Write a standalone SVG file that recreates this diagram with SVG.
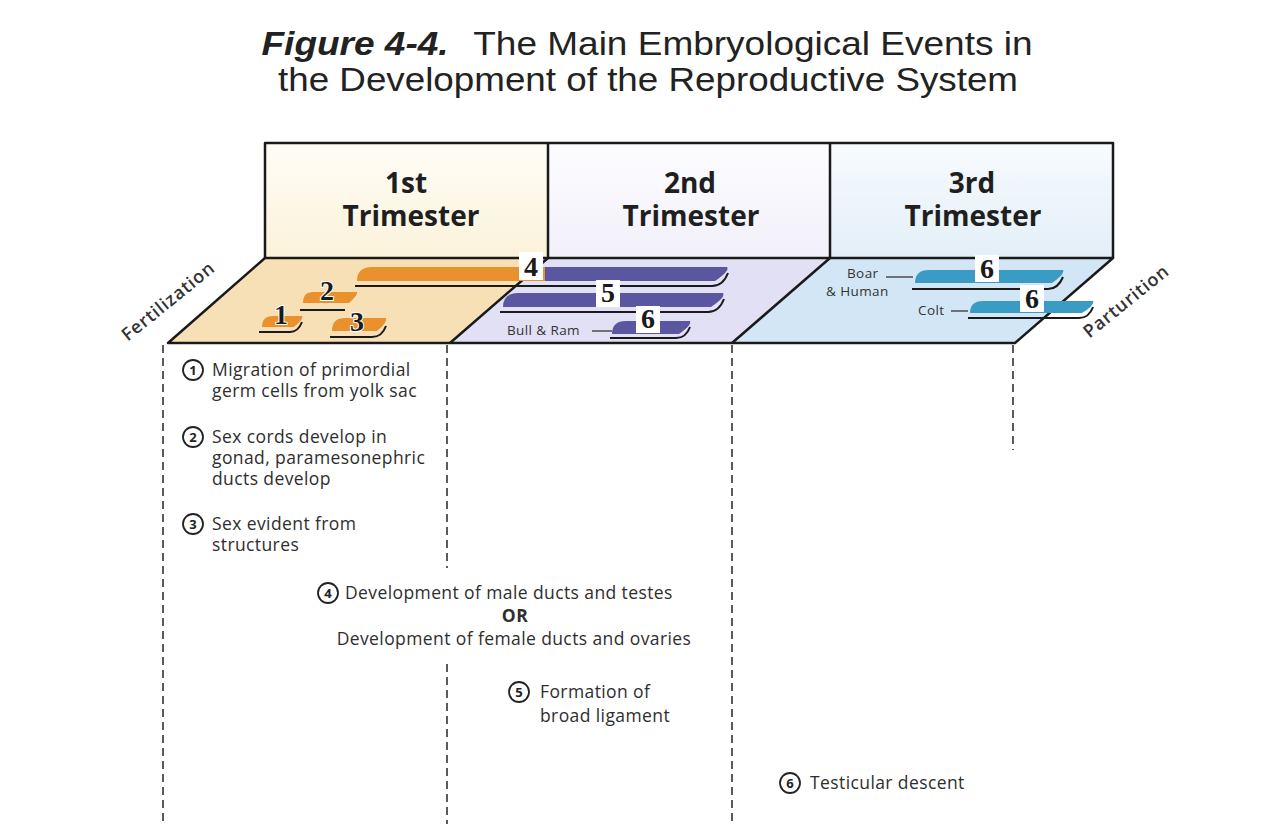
<svg xmlns="http://www.w3.org/2000/svg" width="1288" height="824" viewBox="0 0 1288 824">
<defs>
<linearGradient id="g1" x1="0" y1="0" x2="0" y2="1"><stop offset="0" stop-color="#fffdf6"/><stop offset="1" stop-color="#fbf2da"/></linearGradient>
<linearGradient id="g2" x1="0" y1="0" x2="0" y2="1"><stop offset="0" stop-color="#fdfdff"/><stop offset="1" stop-color="#f1f0fa"/></linearGradient>
<linearGradient id="g3" x1="0" y1="0" x2="0" y2="1"><stop offset="0" stop-color="#f7fbfe"/><stop offset="1" stop-color="#e3eff8"/></linearGradient>
</defs>
<style>
.edge{stroke:#1a1a1a;stroke-width:2.5;fill:none;stroke-linejoin:round}
.dash{stroke:#333;stroke-width:1.6;stroke-dasharray:8 5;fill:none}
.lead{stroke:#333;stroke-width:1.3;fill:none}
.ul{stroke:#1a1a1a;stroke-width:2;fill:none}
.or{fill:#e9912d}
.pu{fill:#5a569f}
.bl{fill:#3a9cc5}
.num{font-family:"Liberation Serif",serif;font-weight:bold;font-size:28px;fill:#1a1a1a;text-anchor:middle;paint-order:stroke;stroke:#fff;stroke-width:2}
.nbox{fill:#fff}
.tri{font-family:"Open Sans",Lato,sans-serif;font-weight:bold;font-size:28px;fill:#1f1f1f;text-anchor:middle}
.txt{font-family:"Open Sans",Lato,sans-serif;font-size:17.5px;letter-spacing:0.4px;fill:#2e2e2e}
.sm{font-family:"Open Sans",Lato,sans-serif;font-size:13.5px;letter-spacing:0.4px;fill:#333}
.cn{fill:#fff;stroke:#222;stroke-width:1.8}
.cd{font-family:"Open Sans",Lato,sans-serif;font-size:13px;fill:#222;text-anchor:middle;font-weight:bold}
.side{font-family:"Open Sans",Lato,sans-serif;font-size:18px;letter-spacing:0.8px;fill:#333;font-weight:600;text-anchor:middle}
.title{font-family:"Liberation Sans",Arial,sans-serif;font-size:33px;fill:#222;text-anchor:middle}
</style>
<rect width="1288" height="824" fill="#fff"/>

<g id="title">
<text class="title" x="647" y="55" textLength="771" lengthAdjust="spacingAndGlyphs"><tspan font-weight="bold" font-style="italic">Figure 4-4.</tspan><tspan dx="22">The Main Embryological Events in</tspan></text>
<text class="title" x="648" y="91" textLength="740" lengthAdjust="spacingAndGlyphs">the Development of the Reproductive System</text>
</g>

<g id="trimester1">
<rect x="265" y="143" width="283" height="115" fill="url(#g1)"/>
<polygon points="265,258 548,258 450,343 168,343" fill="#f7dfb6"/>
<text class="tri"><tspan x="406" y="193">1st</tspan><tspan x="411" y="226">Trimester</tspan></text>
</g>
<g id="trimester2">
<rect x="548" y="143" width="282" height="115" fill="url(#g2)"/>
<polygon points="548,258 830,258 732,343 450,343" fill="#e2e0f5"/>
<text class="tri"><tspan x="690" y="193">2nd</tspan><tspan x="691" y="226">Trimester</tspan></text>
</g>
<g id="trimester3">
<rect x="830" y="143" width="283" height="115" fill="url(#g3)"/>
<polygon points="830,258 1113,258 1015,343 732,343" fill="#d3e6f5"/>
<text class="tri"><tspan x="972" y="193">3rd</tspan><tspan x="973" y="226">Trimester</tspan></text>
</g>

<g id="frame">
<path class="edge" d="M265,258 L265,143 L1113,143 L1113,258 M548,143 L548,258 M830,143 L830,258"/>
<polygon class="edge" points="265,258 1113,258 1015,343 168,343"/>
<path class="edge" d="M548,258 L450,343 M830,258 L732,343"/>
</g>

<g id="connectors">
<path class="dash" d="M163,345 V824"/>
<path class="dash" d="M447,345 V568 M447,664 V824"/>
<path class="dash" d="M732,345 V824"/>
<path class="dash" d="M1013,345 V450"/>
<path class="lead" d="M592,331 H612"/>
<path class="lead" d="M886,277 H913"/>
<path class="lead" d="M951,311 H968"/>
</g>

<g id="side-labels">
<text class="side" transform="translate(172,306) rotate(-39)">Fertilization</text>
<text class="side" transform="translate(1130,306) rotate(-39)">Parturition</text>
</g>

<g id="bar1">
<path class="or" d="M262,327 Q262,316 273,316 L302,316 Q304,319 294,327 Z"/>
<path class="ul" d="M259,332 L290,332 Q298,332 302,322"/>
<text class="num" x="281" y="324">1</text>
</g>
<g id="bar2">
<path class="or" d="M303,303 Q303,292 313,292 L357,292 Q358,295 349,303 Z"/>
<path class="ul" d="M300,310 L345,310"/>
<text class="num" x="327" y="300">2</text>
</g>
<g id="bar3">
<path class="or" d="M332,331 Q332,318 345,318 L386,318 Q388,322 377,331 Z"/>
<path class="ul" d="M330,337 L372,337 Q382,337 386,326"/>
<text class="num" x="357" y="331">3</text>
</g>
<g id="bar4">
<path class="or" d="M357,281 Q357,267 372,267 L545,267 L545,281 Z"/>
<path class="pu" d="M545,267 L727,267 Q730,271 715,281 L545,281 Z"/>
<path class="ul" d="M355,286 L712,286 Q723,286 728,273"/>
<rect class="nbox" x="519" y="252" width="24" height="28"/>
<text class="num" x="531" y="276">4</text>
</g>
<g id="bar5">
<path class="pu" d="M503,307 Q503,293 518,293 L723,293 Q726,297 711,307 Z"/>
<path class="ul" d="M500,312 L708,312 Q719,312 724,299"/>
<rect class="nbox" x="596" y="280" width="24" height="27"/>
<text class="num" x="608" y="302">5</text>
</g>
<g id="bar6-bull">
<path class="pu" d="M612,334 Q612,321 626,321 L690,321 Q692,325 679,334 Z"/>
<path class="ul" d="M610,338 L676,338 Q686,338 690,327"/>
<rect class="nbox" x="636" y="306" width="24" height="27"/>
<text class="num" x="648" y="328">6</text>
<text class="sm" x="507" y="335">Bull &amp; Ram</text>
</g>
<g id="bar6-boar">
<path class="bl" d="M915,283 Q915,270 929,270 L1063,270 Q1065,274 1052,283 Z"/>
<path class="ul" d="M912,289 L1048,289 Q1058,289 1063,277"/>
<rect class="nbox" x="975" y="255" width="24" height="27"/>
<text class="num" x="987" y="278">6</text>
<text class="sm" x="847" y="278">Boar</text>
<text class="sm" x="826" y="296">&amp; Human</text>
</g>
<g id="bar6-colt">
<path class="bl" d="M970,313 Q970,301 983,301 L1093,301 Q1095,305 1082,313 Z"/>
<path class="ul" d="M968,318 L1079,318 Q1089,318 1093,307"/>
<rect class="nbox" x="1020" y="285" width="24" height="27"/>
<text class="num" x="1032" y="308">6</text>
<text class="sm" x="918" y="315">Colt</text>
</g>

<g id="note1">
<circle class="cn" cx="193" cy="370" r="10"/><text class="cd" x="193" y="374.5">1</text>
<text class="txt" x="212" y="376">Migration of primordial</text>
<text class="txt" x="212" y="397">germ cells from yolk sac</text>
</g>
<g id="note2">
<circle class="cn" cx="193" cy="437" r="10"/><text class="cd" x="193" y="441.5">2</text>
<text class="txt" x="212" y="443">Sex cords develop in</text>
<text class="txt" x="212" y="464">gonad, paramesonephric</text>
<text class="txt" x="212" y="485">ducts develop</text>
</g>
<g id="note3">
<circle class="cn" cx="193" cy="524" r="10"/><text class="cd" x="193" y="528.5">3</text>
<text class="txt" x="212" y="530">Sex evident from</text>
<text class="txt" x="212" y="551">structures</text>
</g>
<g id="note4">
<circle class="cn" cx="328" cy="593" r="10"/><text class="cd" x="328" y="597.5">4</text>
<text class="txt" x="345" y="599">Development of male ducts and testes</text>
<text class="txt" x="515" y="622" text-anchor="middle" font-weight="bold">OR</text>
<text class="txt" x="514" y="645" text-anchor="middle">Development of female ducts and ovaries</text>
</g>
<g id="note5">
<circle class="cn" cx="519" cy="692" r="10"/><text class="cd" x="519" y="696.5">5</text>
<text class="txt" x="540" y="698">Formation of</text>
<text class="txt" x="540" y="722">broad ligament</text>
</g>
<g id="note6">
<circle class="cn" cx="790" cy="783" r="10"/><text class="cd" x="790" y="787.5">6</text>
<text class="txt" x="810" y="789">Testicular descent</text>
</g>
</svg>
